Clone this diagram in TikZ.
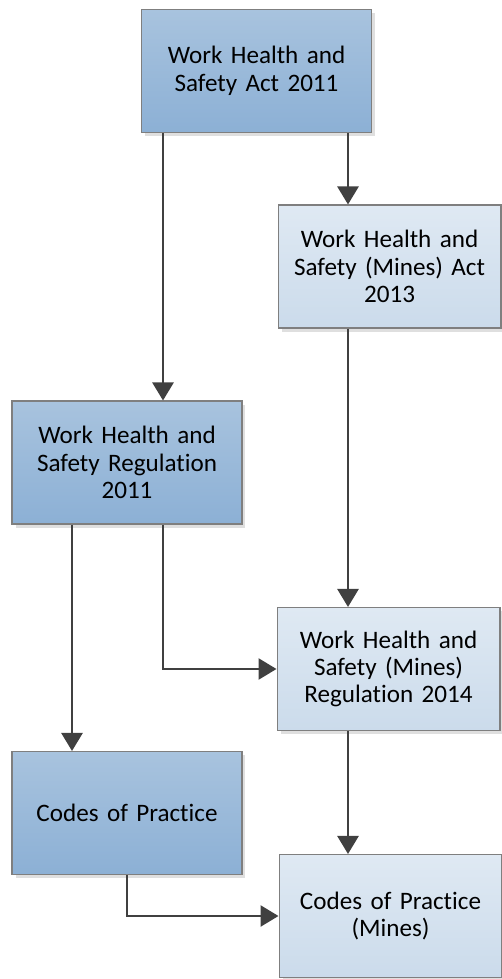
\documentclass[tikz,border=0pt]{standalone}
\usepackage{fontspec}
\setmainfont{Carlito}[Ligatures=NoCommon]
\usetikzlibrary{arrows.meta,shadows}
\definecolor{darktop}{HTML}{A8C3DE}
\definecolor{darkbot}{HTML}{8CB0D5}
\definecolor{lighttop}{HTML}{DFE9F3}
\definecolor{lightbot}{HTML}{CBDBEB}
\definecolor{edgegray}{HTML}{7F7F7F}
\definecolor{arrowgray}{HTML}{404040}
\begin{document}
\begin{tikzpicture}[x=0.02cm,y=-0.02cm,
    lawbox/.style={draw=edgegray,line width=0.6pt,inner sep=0pt,
        minimum height=2.46cm,text width=4.3cm,align=center,
        font=\fontsize{14.3}{15.6}\selectfont,
        drop shadow={shadow xshift=2pt,shadow yshift=-2pt,opacity=0.25}},
    darkbox/.style={lawbox,minimum width=4.6cm,top color=darktop,bottom color=darkbot},
    lightbox/.style={lawbox,minimum width=4.46cm,top color=lighttop,bottom color=lightbot},
    flow/.style={draw=arrowgray,line width=1.5pt,
        -{Triangle[length=0.36cm,width=0.42cm]}}]
      \useasboundingbox (0,0) rectangle (502,979);

      \node (act) at (256.5,71) [darkbox]{Work Health and\\Safety Act 2011};
      \node (minesact) at (389.5,266.5) [lightbox]{Work Health and\\Safety (Mines) Act\\2013};
      \node (reg) at (127,462.5) [darkbox]{Work Health and\\Safety Regulation\\2011};
      \node (minesreg) at (388.5,669) [lightbox]{Work Health and\\Safety (Mines)\\Regulation 2014};
      \node (codes) at (127,813) [darkbox]{Codes of Practice};
      \node (codesmines) at (390.5,916) [lightbox]{Codes of Practice\\(Mines)};

      % branch points on the box edges
      \coordinate (actL) at (163,0);
      \coordinate (actR) at (348,0);
      \coordinate (regL) at (72,0);
      \coordinate (regR) at (163,0);
      \coordinate (codesR) at (127,0);

      \draw[flow] (act.south -| actL) -- (reg.north -| actL);
      \draw[flow] (act.south -| actR) -- (minesact.north -| actR);
      \draw[flow] (minesact.south -| actR) -- (minesreg.north -| actR);
      \draw[flow] (minesreg.south -| actR) -- (codesmines.north -| actR);
      \draw[flow] (reg.south -| regL) -- (codes.north -| regL);
      \draw[flow] (reg.south -| regR) |- (minesreg.west);
      \draw[flow] (codes.south -| codesR) |- (codesmines.west);

      \end{tikzpicture}
\end{document}
